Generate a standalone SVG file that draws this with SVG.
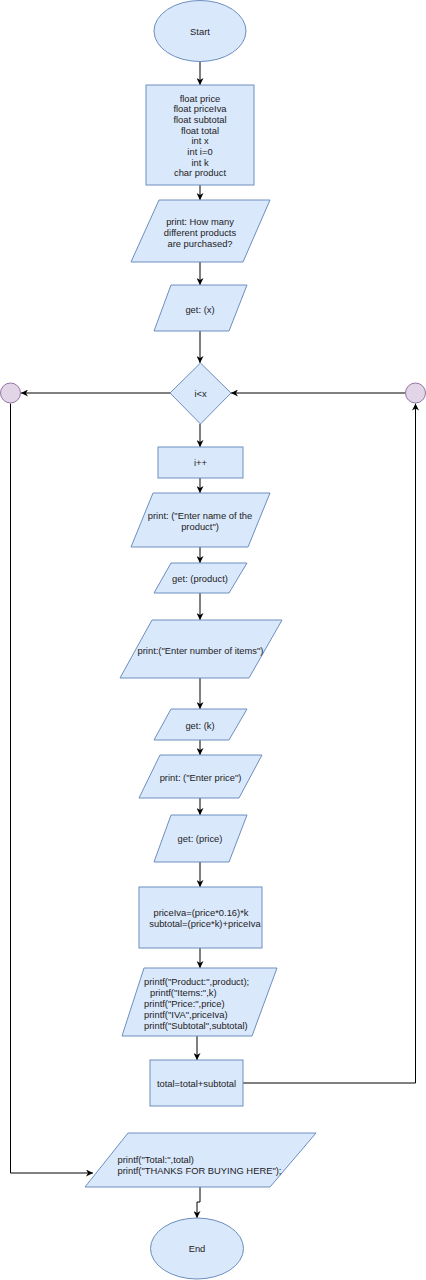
<svg xmlns="http://www.w3.org/2000/svg" width="426" height="1280" viewBox="0 0 426 1280">
<defs>
<marker id="arr" viewBox="0 0 10 10" refX="10" refY="5" markerWidth="7" markerHeight="7" markerUnits="userSpaceOnUse" orient="auto">
<path d="M0,0 L10,5 L0,10 L3,5 z" fill="#000"/>
</marker>
<style>
.n{fill:#dae8fc;stroke:#6c8ebf;stroke-width:1}
.c{fill:#e1d5e7;stroke:#9673a6;stroke-width:1}
text{font-family:"Liberation Sans",Arial,sans-serif;font-size:9.4px;fill:#222;dominant-baseline:central}
.m{text-anchor:middle}
.e{fill:none;stroke:#000;stroke-width:1;marker-end:url(#arr)}
.l{fill:none;stroke:#000;stroke-width:1}
</style>
</defs>
<rect width="426" height="1280" fill="#fff"/>
<g id="connectors">
<path class="e" d="M200,62 V85"/>
<path class="e" d="M200,185 V200"/>
<path class="e" d="M200,262 V285"/>
<path class="e" d="M200,331 V363"/>
<path class="e" d="M170,393 H21"/>
<path class="e" d="M405,393 H231"/>
<path class="e" d="M200,424 V447"/>
<path class="e" d="M200,478 V493"/>
<path class="e" d="M200,547 V563"/>
<path class="e" d="M200,593 V620"/>
<path class="e" d="M200,678 V709"/>
<path class="e" d="M200,740 V755"/>
<path class="e" d="M200,798 V815"/>
<path class="e" d="M200,862 V887"/>
<path class="e" d="M200,948 V968"/>
<path class="e" d="M197,1036 V1060"/>
<path class="e" d="M243,1083 H415.5 V403.5"/>
<path class="e" d="M10.5,403.5 V1173 H93"/>
<path class="e" d="M200,1187 V1202 H197 V1218"/>
</g>
<g id="start"><ellipse class="n" cx="200" cy="31" rx="46" ry="30.5"/><text class="m" x="200" y="31">Start</text></g>
<g id="decl"><rect class="n" x="146" y="85" width="108" height="100"/>
<text class="m" x="200" y="98">float price</text>
<text class="m" x="200" y="108.7">float priceIva</text>
<text class="m" x="200" y="119.4">float subtotal</text>
<text class="m" x="200" y="130">float total</text>
<text class="m" x="200" y="140.7">int x</text>
<text class="m" x="200" y="151.4">int i=0</text>
<text class="m" x="200" y="162">int k</text>
<text class="m" x="200" y="172.7">char product</text></g>
<g id="print1"><polygon class="n" points="159,200 270,200 243,262 131,262"/>
<text class="m" x="200" y="221">print: How many</text>
<text class="m" x="200" y="232.2">different products</text>
<text class="m" x="200" y="243.4">are purchased?</text></g>
<g id="getx"><polygon class="n" points="171,285 247,285 229,331 154,331"/><text class="m" x="200" y="309">get: (x)</text></g>
<g id="cond"><polygon class="n" points="200.5,363 231,393 200.5,424 170,393"/><text class="m" x="200.5" y="393">i&lt;x</text></g>
<g id="circleL"><circle class="c" cx="10.5" cy="393" r="10"/></g>
<g id="circleR"><circle class="c" cx="415.5" cy="393" r="10"/></g>
<g id="inc"><rect class="n" x="158" y="447" width="85" height="31"/><text class="m" x="200.5" y="462.5">i++</text></g>
<g id="print2"><polygon class="n" points="153,493 270,493 248,547 131,547"/>
<text class="m" x="200" y="515.3">print: ("Enter name of the</text>
<text class="m" x="200" y="526.5">product")</text></g>
<g id="getproduct"><polygon class="n" points="171,563 247,563 229,593 154,593"/><text class="m" x="200" y="578.3">get: (product)</text></g>
<g id="print3"><polygon class="n" points="152,620 282,620 249,678 120,678"/><text class="m" x="200.5" y="650">print:("Enter number of items")</text></g>
<g id="getk"><polygon class="n" points="171,709 247,709 229,740 154,740"/><text class="m" x="200" y="725">get: (k)</text></g>
<g id="print4"><polygon class="n" points="160,755 262,755 239,798 139,798"/><text class="m" x="200.5" y="777.3">print: ("Enter price")</text></g>
<g id="getprice"><polygon class="n" points="171,815 247,815 229,862 154,862"/><text class="m" x="200" y="838">get: (price)</text></g>
<g id="calc"><rect class="n" x="139" y="887" width="123" height="61"/>
<text class="m" x="201" y="912.3">priceIva=(price*0.16)*k</text>
<text class="m" x="205" y="923.3">subtotal=(price*k)+priceIva</text></g>
<g id="printf1"><polygon class="n" points="144,968 277,968 252,1036 122,1036"/>
<text x="144" y="981.7">printf("Product:",product);</text>
<text x="150" y="992.7">printf("Items:",k)</text>
<text x="144" y="1003.6">printf("Price:",price)</text>
<text x="144" y="1014.6">printf("IVA",priceIva)</text>
<text x="144" y="1025.6">printf("Subtotal",subtotal)</text></g>
<g id="total"><rect class="n" x="150" y="1060" width="93" height="46"/><text class="m" x="196.5" y="1083">total=total+subtotal</text></g>
<g id="printf2"><polygon class="n" points="128,1133 316,1133 270,1187 85,1187"/>
<text x="117.5" y="1159">printf("Total:",total)</text>
<text x="117.5" y="1170">printf("THANKS FOR BUYING HERE");</text></g>
<g id="end"><ellipse class="n" cx="197" cy="1248.5" rx="46.5" ry="30.5"/><text class="m" x="197" y="1248.5">End</text></g>
</svg>
